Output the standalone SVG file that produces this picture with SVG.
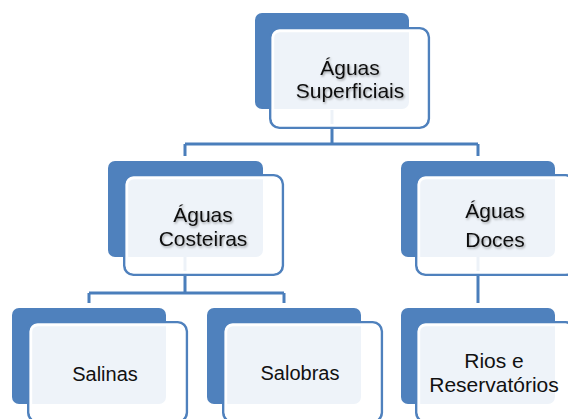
<svg xmlns="http://www.w3.org/2000/svg" width="568" height="419" viewBox="0 0 568 419">
<style>
.back{fill:#4F81BD}
.front{fill:#fff;fill-opacity:0.9;stroke:#4F81BD;stroke-width:2.6}
.band{fill:none;stroke:#fff;stroke-width:2.6}
.conn{fill:none;stroke:#4A7EBB;stroke-width:3}
.t{font-family:"Liberation Sans",Arial,sans-serif;fill:#111;text-anchor:middle}
.big{font-size:21px}
.small{font-size:20px}
.sh{filter:url(#shadow)}
</style>
<defs>
<filter id="shadow" x="-20%" y="-40%" width="140%" height="180%">
<feDropShadow dx="1" dy="1.5" stdDeviation="1" flood-color="#000" flood-opacity="0.35"/>
</filter>
</defs>
<g id="connectors">
<path class="conn" d="M332 110V144M185 144H478M185 144V156M478 144V156"/>
<path class="conn" d="M185 257V293M89 293H284M89 293V303M284 293V303"/>
<path class="conn" d="M478 257V303"/>
</g>
<g id="node-superficiais">
<rect class="back" x="255" y="13" width="154" height="96" rx="7"/>
<rect class="front" x="270.3" y="28.3" width="158.5" height="99.5" rx="9"/>
<rect class="band" x="272.9" y="30.9" width="153.3" height="94.3" rx="7"/>
<g class="sh"><text class="t big" x="350" y="74.5">Águas</text>
<text class="t big" x="350" y="97.5">Superficiais</text></g>
</g>
<g id="node-costeiras">
<rect class="back" x="108" y="161" width="155" height="96" rx="7"/>
<rect class="front" x="124.3" y="175.3" width="158.5" height="99.5" rx="9"/>
<rect class="band" x="126.9" y="177.9" width="153.3" height="94.3" rx="7"/>
<g class="sh"><text class="t big" x="203" y="221.5">Águas</text>
<text class="t big" x="203" y="246">Costeiras</text></g>
</g>
<g id="node-doces">
<rect class="back" x="401" y="161" width="154" height="96" rx="7"/>
<rect class="front" x="416.3" y="175.3" width="158.5" height="99.5" rx="9"/>
<rect class="band" x="418.9" y="177.9" width="153.3" height="94.3" rx="7"/>
<g class="sh"><text class="t big" x="495" y="218">Águas</text>
<text class="t big" x="495" y="247">Doces</text></g>
</g>
<g id="node-salinas">
<rect class="back" x="12" y="308" width="154" height="96" rx="7"/>
<rect class="front" x="28.3" y="322.3" width="158.5" height="99.5" rx="9"/>
<rect class="band" x="30.9" y="324.9" width="153.3" height="94.3" rx="7"/>
<text class="t small" x="105" y="380.5">Salinas</text>
</g>
<g id="node-salobras">
<rect class="back" x="207" y="308" width="154" height="96" rx="7"/>
<rect class="front" x="223.3" y="322.3" width="158.5" height="99.5" rx="9"/>
<rect class="band" x="225.9" y="324.9" width="153.3" height="94.3" rx="7"/>
<text class="t small" x="300" y="380">Salobras</text>
</g>
<g id="node-rios">
<rect class="back" x="401" y="308" width="154" height="96" rx="7"/>
<rect class="front" x="416.3" y="322.3" width="158.5" height="99.5" rx="9"/>
<rect class="band" x="418.9" y="324.9" width="153.3" height="94.3" rx="7"/>
<text class="t big" x="494" y="368">Rios e</text>
<text class="t big" x="494" y="392">Reservatórios</text>
</g>
</svg>
